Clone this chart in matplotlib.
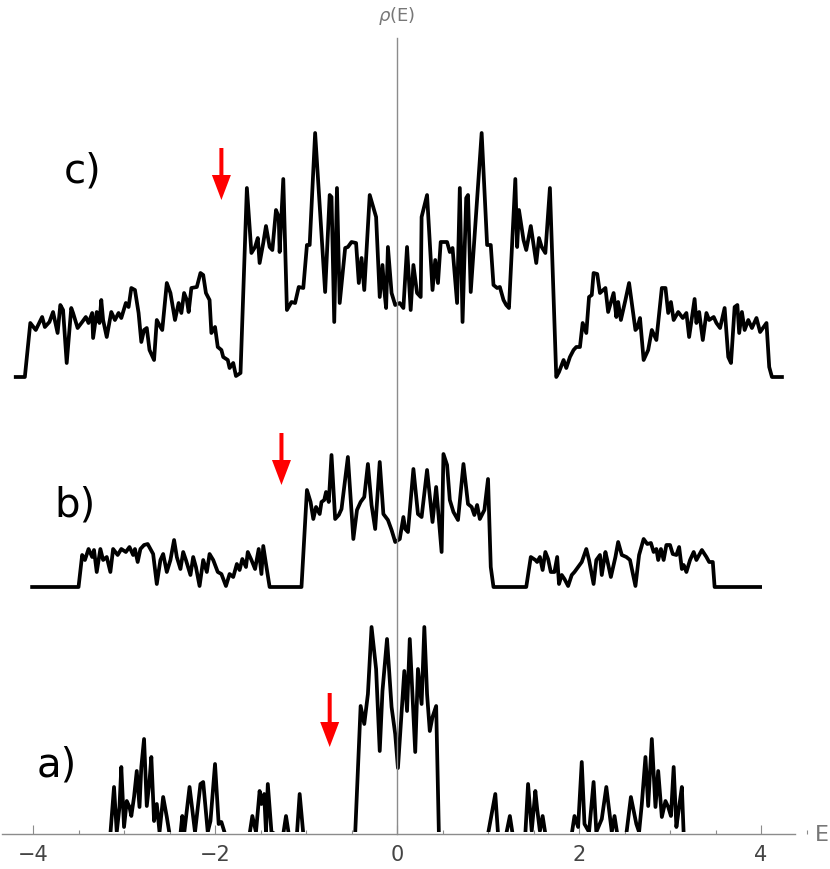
import matplotlib
matplotlib.use('Agg')
import matplotlib.pyplot as plt
from matplotlib.patches import FancyArrow, Rectangle
from matplotlib.ticker import MultipleLocator

# ---------------- data ----------------
c_E = [-4.19, -4.09, -4.03, -3.97, -3.90, -3.87, -3.82, -3.78, -3.73, -3.70,
       -3.67, -3.63, -3.58, -3.56, -3.51, -3.46, -3.42, -3.39, -3.35, -3.34,
       -3.30, -3.27, -3.25, -3.23, -3.19, -3.14, -3.10, -3.06, -3.03, -2.98,
       -2.95, -2.92, -2.88, -2.84, -2.81, -2.78, -2.75, -2.72, -2.67, -2.64,
       -2.60, -2.58, -2.53, -2.49, -2.44, -2.40, -2.37, -2.34, -2.31, -2.29,
       -2.26, -2.20, -2.16, -2.13, -2.10, -2.06, -2.04, -2.00, -1.97, -1.93,
       -1.91, -1.86, -1.84, -1.80, -1.77, -1.72, -1.65, -1.60, -1.56, -1.53,
       -1.51, -1.47, -1.44, -1.40, -1.37, -1.33, -1.30, -1.29, -1.25, -1.21,
       -1.16, -1.12, -1.08, -1.03, -0.99, -0.96, -0.90, -0.79, -0.74, -0.72,
       -0.69, -0.66, -0.63, -0.57, -0.54, -0.50, -0.45, -0.42, -0.39, -0.36,
       -0.30, -0.23, -0.19, -0.16, -0.14, -0.12, -0.10, -0.06, -0.02,
       0.03, 0.07, 0.11, 0.15, 0.18, 0.22, 0.26, 0.27, 0.33, 0.39,
       0.42, 0.45, 0.48, 0.55, 0.58, 0.61, 0.66, 0.69, 0.72, 0.76,
       0.78, 0.81, 0.93, 0.99, 1.03, 1.06, 1.10, 1.13, 1.17, 1.20,
       1.23, 1.30, 1.32, 1.34, 1.39, 1.42, 1.47, 1.53, 1.56, 1.59,
       1.63, 1.68, 1.75, 1.78, 1.83, 1.86, 1.90, 1.94, 1.97, 2.01,
       2.04, 2.08, 2.11, 2.14, 2.16, 2.20, 2.23, 2.29, 2.32, 2.38,
       2.41, 2.43, 2.46, 2.51, 2.55, 2.62, 2.64, 2.67, 2.71, 2.76,
       2.80, 2.85, 2.91, 2.95, 2.98, 3.01, 3.04, 3.09, 3.14, 3.18,
       3.21, 3.27, 3.29, 3.32, 3.36, 3.40, 3.43, 3.48, 3.51, 3.55,
       3.60, 3.64, 3.67, 3.71, 3.74, 3.76, 3.79, 3.82, 3.86, 3.90,
       3.95, 3.99, 4.06, 4.09, 4.12, 4.23]
c_rho = [0.00, 0.00, 0.54, 0.47, 0.60, 0.50, 0.55, 0.65, 0.44, 0.72,
         0.67, 0.14, 0.69, 0.64, 0.49, 0.55, 0.60, 0.54, 0.64, 0.39,
         0.65, 0.54, 0.77, 0.57, 0.40, 0.65, 0.57, 0.64, 0.59, 0.74,
         0.70, 0.89, 0.87, 0.64, 0.35, 0.47, 0.49, 0.27, 0.17, 0.57,
         0.50, 0.47, 0.94, 0.84, 0.57, 0.74, 0.64, 0.84, 0.77, 0.65,
         0.89, 0.90, 1.04, 1.02, 0.84, 0.77, 0.44, 0.50, 0.30, 0.27,
         0.20, 0.17, 0.09, 0.14, 0.01, 0.04, 1.89, 1.24, 1.30, 1.39,
         1.14, 1.34, 1.51, 1.30, 1.27, 1.67, 1.60, 1.25, 1.98, 0.67,
         0.75, 0.74, 0.90, 0.89, 1.32, 1.32, 2.44, 0.85, 1.82, 1.80,
         0.55, 1.89, 0.74, 1.29, 1.30, 1.35, 1.34, 0.94, 1.19, 0.87,
         1.82, 1.60, 0.80, 1.12, 0.87, 0.69, 1.30, 0.84, 0.72,
         0.74, 0.69, 1.30, 0.67, 1.12, 0.84, 0.80, 1.60, 1.82, 0.87,
         1.17, 0.94, 1.35, 1.35, 1.25, 1.29, 0.74, 1.89, 0.55, 1.79,
         1.82, 0.85, 2.44, 1.32, 1.32, 0.92, 0.89, 0.90, 0.77, 0.72,
         0.69, 1.98, 1.30, 1.67, 1.37, 1.27, 1.51, 1.14, 1.39, 1.30,
         1.24, 1.89, 0.00, 0.05, 0.17, 0.09, 0.20, 0.27, 0.30, 0.30,
         0.54, 0.44, 0.80, 0.82, 1.04, 1.03, 0.84, 0.89, 0.65, 0.84,
         0.60, 0.75, 0.57, 0.77, 0.94, 0.47, 0.49, 0.59, 0.17, 0.27,
         0.47, 0.37, 0.89, 0.89, 0.64, 0.75, 0.57, 0.65, 0.59, 0.64,
         0.40, 0.78, 0.54, 0.65, 0.37, 0.64, 0.57, 0.60, 0.54, 0.49,
         0.69, 0.20, 0.14, 0.70, 0.72, 0.44, 0.65, 0.47, 0.57, 0.49,
         0.59, 0.45, 0.54, 0.10, 0.00, 0.00]

b_E = [-4.01, -3.50, -3.46, -3.43, -3.39, -3.35, -3.33, -3.30, -3.26, -3.23,
       -3.19, -3.15, -3.12, -3.07, -3.03, -2.98, -2.94, -2.90, -2.88, -2.85,
       -2.82, -2.78, -2.74, -2.71, -2.68, -2.64, -2.60, -2.57, -2.53, -2.49,
       -2.45, -2.42, -2.38, -2.35, -2.32, -2.27, -2.24, -2.21, -2.17, -2.13,
       -2.09, -2.06, -2.02, -1.97, -1.93, -1.88, -1.84, -1.80, -1.76, -1.73,
       -1.70, -1.66, -1.64, -1.60, -1.56, -1.52, -1.49, -1.47, -1.44, -1.40,
       -1.05, -0.99, -0.95, -0.92, -0.89, -0.85, -0.83, -0.80, -0.78, -0.75,
       -0.72, -0.68, -0.64, -0.61, -0.54, -0.48, -0.44, -0.40, -0.36, -0.32,
       -0.28, -0.24, -0.19, -0.15, -0.10, -0.06, -0.02,
       0.03, 0.07, 0.09, 0.12, 0.18, 0.23, 0.27, 0.33, 0.39, 0.43,
       0.49, 0.51, 0.55, 0.58, 0.62, 0.67, 0.73, 0.78, 0.82, 0.85,
       0.88, 0.91, 0.96, 1.00, 1.03, 1.06, 1.42, 1.47, 1.52, 1.54,
       1.57, 1.60, 1.63, 1.66, 1.69, 1.73, 1.76, 1.78, 1.81, 1.84,
       1.88, 1.92, 1.95, 1.99, 2.03, 2.08, 2.11, 2.16, 2.19, 2.23,
       2.25, 2.29, 2.31, 2.35, 2.40, 2.43, 2.47, 2.52, 2.56, 2.62,
       2.66, 2.71, 2.75, 2.79, 2.82, 2.85, 2.87, 2.90, 2.93, 2.96,
       3.00, 3.03, 3.07, 3.10, 3.13, 3.15, 3.18, 3.22, 3.26, 3.29,
       3.35, 3.40, 3.43, 3.47, 3.49, 3.99]
b_rho = [0.00, 0.00, 0.32, 0.27, 0.38, 0.30, 0.37, 0.15, 0.38, 0.27,
         0.30, 0.15, 0.38, 0.32, 0.38, 0.35, 0.40, 0.32, 0.38, 0.25,
         0.38, 0.42, 0.43, 0.38, 0.33, 0.03, 0.27, 0.33, 0.15, 0.27,
         0.47, 0.30, 0.18, 0.35, 0.27, 0.12, 0.30, 0.20, 0.01, 0.27,
         0.15, 0.33, 0.27, 0.15, 0.13, 0.01, 0.13, 0.10, 0.23, 0.17,
         0.28, 0.20, 0.35, 0.27, 0.18, 0.38, 0.13, 0.41, 0.23, 0.00,
         0.00, 0.97, 0.85, 0.68, 0.80, 0.73, 0.85, 0.87, 0.95, 0.85,
         1.32, 0.68, 0.72, 0.78, 1.30, 0.48, 0.77, 0.85, 0.90, 1.23,
         0.82, 0.58, 1.25, 0.73, 0.67, 0.57, 0.45,
         0.48, 0.70, 0.58, 0.55, 1.18, 0.73, 0.70, 1.17, 0.65, 1.00,
         0.35, 1.33, 1.22, 0.87, 0.75, 0.67, 1.23, 0.83, 0.80, 0.72,
         0.82, 0.68, 0.77, 1.08, 0.20, 0.00, 0.00, 0.30, 0.27, 0.25,
         0.30, 0.17, 0.35, 0.28, 0.15, 0.15, 0.30, 0.03, 0.12, 0.08,
         0.01, 0.12, 0.15, 0.20, 0.25, 0.38, 0.27, 0.03, 0.27, 0.32,
         0.12, 0.35, 0.27, 0.10, 0.30, 0.45, 0.32, 0.30, 0.27, 0.01,
         0.32, 0.48, 0.43, 0.44, 0.35, 0.38, 0.27, 0.38, 0.27, 0.42,
         0.42, 0.33, 0.32, 0.40, 0.18, 0.22, 0.15, 0.27, 0.35, 0.27,
         0.37, 0.30, 0.25, 0.25, 0.00, 0.00]

a_E = [-3.15, -3.11, -3.08, -3.05, -3.03, -3.00, -2.97, -2.94, -2.92, -2.89,
       -2.86, -2.83, -2.81, -2.78, -2.75, -2.72, -2.70, -2.67, -2.64, -2.61,
       -2.57, -2.53, -2.50, -2.38, -2.36, -2.34, -2.28, -2.22, -2.16, -2.13,
       -2.08, -2.05, -2.00, -1.96, -1.93, -1.89, -1.62, -1.59, -1.55, -1.51,
       -1.49, -1.46, -1.44, -1.42, -1.38, -1.34, -1.25, -1.22, -1.19, -1.10,
       -1.07, -1.03, -0.46, -0.40, -0.36, -0.32, -0.28, -0.23, -0.19, -0.16,
       -0.11, -0.06, -0.02, 0.01, 0.08, 0.11, 0.14, 0.20, 0.23, 0.27,
       0.30, 0.33, 0.36, 0.39, 0.43, 0.46, 1.00, 1.08, 1.11, 1.20,
       1.24, 1.27, 1.41, 1.44, 1.48, 1.52, 1.54, 1.57, 1.60, 1.63,
       1.92, 1.95, 1.99, 2.03, 2.06, 2.11, 2.16, 2.19, 2.25, 2.30,
       2.36, 2.39, 2.42, 2.52, 2.57, 2.63, 2.66, 2.69, 2.73, 2.76,
       2.80, 2.84, 2.87, 2.91, 2.95, 2.98, 3.01, 3.04, 3.07, 3.10,
       3.13, 3.15]
a_rho = [0.00, 0.47, 0.02, 0.27, 0.67, 0.07, 0.33, 0.27, 0.18, 0.37,
         0.63, 0.27, 0.67, 0.95, 0.28, 0.53, 0.77, 0.13, 0.30, 0.02,
         0.37, 0.17, 0.00, 0.00, 0.18, 0.00, 0.47, 0.02, 0.50, 0.52,
         0.02, 0.13, 0.70, 0.10, 0.12, 0.00, 0.00, 0.18, 0.02, 0.43,
         0.30, 0.40, 0.02, 0.50, 0.02, 0.00, 0.00, 0.18, 0.00, 0.00,
         0.40, 0.00, 0.00, 1.28, 1.10, 1.40, 2.07, 1.65, 0.83, 1.43,
         1.95, 1.27, 1.00, 0.66, 1.63, 1.23, 1.95, 0.82, 1.65, 1.30,
         2.07, 1.40, 1.03, 1.17, 1.28, 0.00, 0.00, 0.40, 0.00, 0.00,
         0.18, 0.00, 0.00, 0.50, 0.03, 0.43, 0.25, 0.03, 0.18, 0.00,
         0.00, 0.18, 0.07, 0.72, 0.10, 0.02, 0.52, 0.02, 0.15, 0.47,
         0.02, 0.18, 0.00, 0.00, 0.37, 0.10, 0.02, 0.30, 0.77, 0.28,
         0.95, 0.27, 0.63, 0.17, 0.33, 0.27, 0.18, 0.67, 0.07, 0.27,
         0.47, 0.00]

offsets = {'a': 0.0, 'b': 2.47, 'c': 4.57}
panel_labels = ['a)', 'b)', 'c)']
arrow_E = [-0.74, -1.27, -1.93]
arrow_tail = [1.41, 4.01, 6.86]
arrow_tip = [0.87, 3.49, 6.34]

xticks = [-4, -2, 0, 2, 4]
xtick_labels = ['\u22124', '\u22122', '0', '2', '4']

# ---------------- figure ----------------
fig = plt.figure(figsize=(8.3, 8.69), dpi=100)
ax = fig.add_axes([0, 0, 1, 1])
ax.set_xlim(-4.363, 4.758)
ax.set_ylim(-0.35, 8.34)

lw = 2.7
ax.plot(c_E, [r + offsets['c'] for r in c_rho], color='black', lw=lw)
ax.plot(b_E, [r + offsets['b'] for r in b_rho], color='black', lw=lw)
line_a, = ax.plot(a_E, [r + offsets['a'] for r in a_rho], color='black', lw=lw)
clip = Rectangle((-5, 0.02), 10, 10, transform=ax.transData)
line_a.set_clip_path(clip)

for xe, yt, yp in zip(arrow_E, arrow_tail, arrow_tip):
    ax.add_patch(FancyArrow(xe, yt, 0, yp - yt, width=4 / 91, head_width=19 / 91,
                            head_length=0.25, length_includes_head=True,
                            color='#ff0000', lw=0))

label_pos = [(-3.74, 0.69), (-3.54, 3.29), (-3.46, 6.62)]
for lab, (lx, ly) in zip(panel_labels, label_pos):
    ax.text(lx, ly, lab, fontsize=29, color='black', ha='center', va='center')

# axes
for s in ['top', 'right']:
    ax.spines[s].set_visible(False)
ax.spines['bottom'].set_position(('data', 0))
ax.spines['left'].set_position(('data', 0))
ax.spines['bottom'].set_bounds(-4.34, 4.37)
ax.spines['left'].set_bounds(0, 7.96)
for s in ['bottom', 'left']:
    ax.spines[s].set_color('#8c8c8c')
    ax.spines[s].set_linewidth(1.0)
ax.set_yticks([])
ax.set_xticks(xticks)
ax.set_xticklabels(xtick_labels)
ax.xaxis.set_minor_locator(MultipleLocator(0.5))
ax.tick_params(axis='x', which='major', direction='in', length=6.5, width=0.8,
               color='#8c8c8c', pad=8, labelsize=15, labelcolor='#444444')
ax.tick_params(axis='x', which='minor', direction='in', length=3, width=0.8,
               color='#8c8c8c')

ax.text(0, 8.18, r'$\rho$(E)', fontsize=13, color='#777777', ha='center', va='center')
ax.text(4.67, -0.01, 'E', fontsize=16, color='#777777', ha='center', va='center')

fig.savefig('out.png', dpi=100)
